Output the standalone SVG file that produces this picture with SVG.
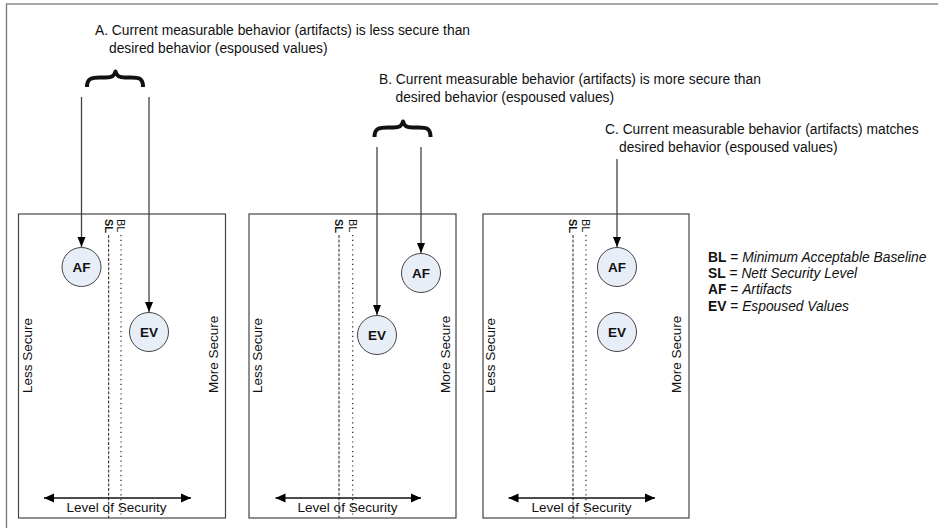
<svg xmlns="http://www.w3.org/2000/svg" width="938" height="528" viewBox="0 0 938 528">
  <style>
    text { font-family: "Liberation Sans", Arial, sans-serif; fill: #111; }
    .note { font-size: 13.8px; }
    .side { font-size: 13.5px; }
    .lbl { font-size: 11px; }
    .panel { fill: #fff; stroke: #444; stroke-width: 1.2; }
    .sl { stroke: #222; stroke-width: 1; stroke-dasharray: 3 1.6; fill: none; }
    .bl { stroke: #222; stroke-width: 1.2; stroke-dasharray: 1.2 3.6; fill: none; }
    .node circle { fill: #e8eef7; stroke: #444; stroke-width: 1; }
    .node text { font-size: 13.5px; font-weight: bold; text-anchor: middle; }
    .pointer { stroke: #444; stroke-width: 1.3; fill: none; marker-end: url(#head); }
    .scale { stroke: #111; stroke-width: 1.3; fill: none; marker-start: url(#tail); marker-end: url(#head2); }
    .brace { stroke: #111; stroke-width: 4; fill: none; stroke-linejoin: round; }
    .legend { font-size: 13.8px; }
  </style>
  <defs>
    <marker id="head" markerUnits="userSpaceOnUse" markerWidth="10" markerHeight="10" refX="10" refY="4" orient="auto" viewBox="0 0 10 8">
      <path d="M0,0 L10,4 L0,8 z" fill="#000"/>
    </marker>
    <marker id="head2" markerUnits="userSpaceOnUse" markerWidth="10" markerHeight="10" refX="9" refY="4" orient="auto" viewBox="0 0 9 8">
      <path d="M0,0 L9,4 L0,8 z" fill="#000"/>
    </marker>
    <marker id="tail" markerUnits="userSpaceOnUse" markerWidth="10" markerHeight="10" refX="0" refY="4" orient="auto" viewBox="0 0 9 8">
      <path d="M9,0 L0,4 L9,8 z" fill="#000"/>
    </marker>
    <path id="curly" d="M0,16 C0,7 5,6.5 13,6.5 L19,6.5 C25,6.5 27.5,5 28.5,0.5 C29.5,5 32,6.5 38,6.5 L44,6.5 C52,6.5 56,7 56,16"/>
  </defs>

  <!-- outer frame -->
  <rect x="6.5" y="4" width="940" height="540" fill="#fff" stroke="#777" stroke-width="1.3"/>

  <!-- panels -->
  <g id="panel-a">
    <rect class="panel" x="18.5" y="214" width="207" height="304"/>
    <text class="side" transform="translate(31.5,393) rotate(-90)">Less Secure</text>
    <text class="side" transform="translate(217.5,393) rotate(-90)">More Secure</text>
    <text class="side" x="116.5" y="511.5" text-anchor="middle">Level of Security</text>
    <path class="sl" d="M108.7,235 V518"/>
    <path class="bl" d="M121,235 V518"/>
    <text class="lbl" font-weight="bold" transform="translate(108.7,219) rotate(90)" dy="0.35em">SL</text>
    <text class="lbl" transform="translate(121,219) rotate(90)" dy="0.35em">BL</text>
  </g>
  <g id="panel-b">
    <rect class="panel" x="249" y="214" width="207" height="304"/>
    <text class="side" transform="translate(262,393) rotate(-90)">Less Secure</text>
    <text class="side" transform="translate(449.5,393) rotate(-90)">More Secure</text>
    <text class="side" x="347.5" y="511.5" text-anchor="middle">Level of Security</text>
    <path class="sl" d="M339,235 V518"/>
    <path class="bl" d="M352.7,235 V518"/>
    <text class="lbl" font-weight="bold" transform="translate(339,219) rotate(90)" dy="0.35em">SL</text>
    <text class="lbl" transform="translate(352.7,219) rotate(90)" dy="0.35em">BL</text>
  </g>
  <g id="panel-c">
    <rect class="panel" x="483" y="214" width="206" height="304"/>
    <text class="side" transform="translate(494.5,393) rotate(-90)">Less Secure</text>
    <text class="side" transform="translate(681,393) rotate(-90)">More Secure</text>
    <text class="side" x="581.5" y="511.5" text-anchor="middle">Level of Security</text>
    <path class="sl" d="M573,235 V518"/>
    <path class="bl" d="M586,235 V518"/>
    <text class="lbl" font-weight="bold" transform="translate(573,219) rotate(90)" dy="0.35em">SL</text>
    <text class="lbl" transform="translate(586,219) rotate(90)" dy="0.35em">BL</text>
  </g>

  <!-- case notes -->
  <g id="note-a">
    <text class="note" x="95" y="35">A. Current measurable behavior (artifacts) is less secure than</text>
    <text class="note" x="109" y="53">desired behavior (espoused values)</text>
    <use href="#curly" class="brace" transform="translate(87,71)"/>
  </g>
  <g id="note-b">
    <text class="note" x="379" y="84">B. Current measurable behavior (artifacts) is more secure than</text>
    <text class="note" x="395.5" y="102">desired behavior (espoused values)</text>
    <use href="#curly" class="brace" transform="translate(374.5,121)"/>
  </g>
  <g id="note-c">
    <text class="note" x="605" y="134">C. Current measurable behavior (artifacts) matches</text>
    <text class="note" x="619" y="152">desired behavior (espoused values)</text>
  </g>

  <!-- connectors -->
  <g id="connectors">
    <path class="pointer" d="M81.5,97 V247"/>
    <path class="pointer" d="M149,97 V312"/>
    <path class="pointer" d="M377,147 V315"/>
    <path class="pointer" d="M421,147 V253"/>
    <path class="pointer" d="M617,159 V247"/>
    <path class="scale" d="M44,498 H191"/>
    <path class="scale" d="M275.5,498 H421"/>
    <path class="scale" d="M508.5,498 H655"/>
  </g>

  <!-- nodes -->
  <g id="af-a" class="node"><circle cx="81.5" cy="267" r="19.5"/><text x="81.5" y="272">AF</text></g>
  <g id="ev-a" class="node"><circle cx="149" cy="332" r="19.5"/><text x="149" y="337">EV</text></g>
  <g id="ev-b" class="node"><circle cx="377" cy="335" r="19.5"/><text x="377" y="340">EV</text></g>
  <g id="af-b" class="node"><circle cx="421" cy="273" r="19.5"/><text x="421" y="278">AF</text></g>
  <g id="af-c" class="node"><circle cx="617" cy="267" r="19.5"/><text x="617" y="272">AF</text></g>
  <g id="ev-c" class="node"><circle cx="617" cy="332" r="19.5"/><text x="617" y="337">EV</text></g>

  <!-- legend -->
  <g id="legend" class="legend">
    <text x="708" y="261.5"><tspan font-weight="bold">BL</tspan> = <tspan font-style="italic">Minimum Acceptable Baseline</tspan></text>
    <text x="708" y="278"><tspan font-weight="bold">SL</tspan> = <tspan font-style="italic">Nett Security Level</tspan></text>
    <text x="708" y="294.3"><tspan font-weight="bold">AF</tspan> = <tspan font-style="italic">Artifacts</tspan></text>
    <text x="708" y="310.6"><tspan font-weight="bold">EV</tspan> = <tspan font-style="italic">Espoused Values</tspan></text>
  </g>
</svg>
